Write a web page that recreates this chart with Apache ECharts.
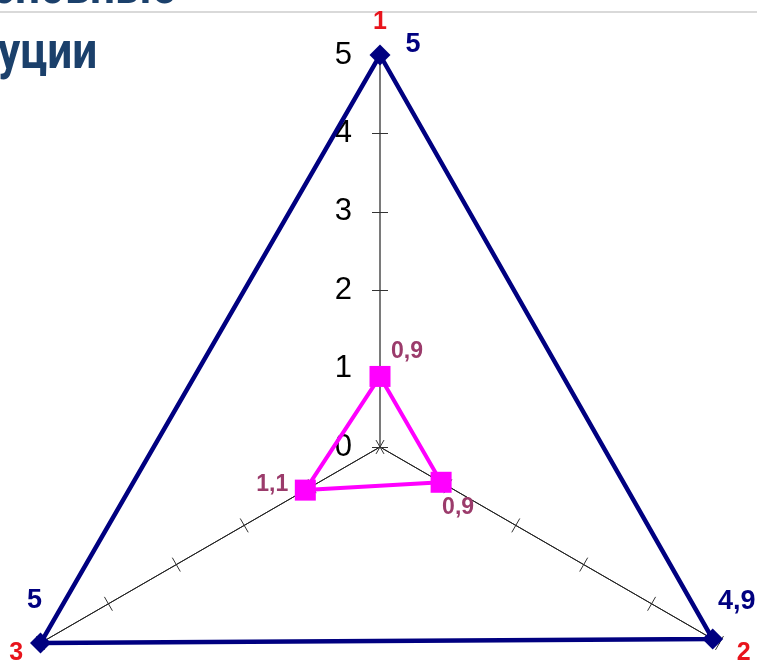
<!DOCTYPE html>
<html>
<head>
<meta charset="utf-8">
<script src="https://cdn.jsdelivr.net/npm/echarts@6/dist/echarts.min.js"></script>
<style>
    html, body { margin: 0; padding: 0; background: #fff; }
    #chart { width: 757px; height: 665px; }
</style>
</head>
<body>
<div id="chart"></div>
<script>
(function () {

    var axisNames = ['1', '2', '3'];
    var maxValue = 5;
    var blueValues = [5, 4.9, 5];
    var pinkValues = [0.9, 0.9, 1.1];
    var titleLines = ['сновные', 'уции'];

    // echarts lays radar axes counterclockwise, the picture goes clockwise
    var order = [0, 2, 1];

    var BLUE = '#000080',
        PINK = '#ff00ff',
        PINK_TEXT = '#9b3b6b',
        RED = '#e8141c',
        TITLE = '#1b406b';

    // label offsets around each vertex, by original axis index
    var blueOffsets = [[33, -10], [24, -38], [-6, -42]];
    var pinkOffsets = [[27, -25], [17, 25], [-33, -5]];

    function reorder(arr) {
        return order.map(i => arr[i]);
    }

    function fmt(v) {
        return String(v).replace('.', ',');
    }

    var center = [380, 447],
        radius = 392;

    function makeIndicators(withLabels) {
        return reorder(axisNames).map((name, k) => {
            var ind = { name: name, min: 0, max: maxValue };
            if (k === 0) {
                if (withLabels) {
                    ind.axisLabel = {
                        show: true,
                        color: '#000',
                        fontSize: 31,
                        fontFamily: 'Liberation Sans',
                        margin: 28,
                        padding: [12, 0, 0, 0],
                        formatter: v => String(v)
                    };
                }
                ind.axisLine = { lineStyle: { color: '#7a7a7a', width: 2 } };
            }
            return ind;
        });
    }

    // two overlaid radars: one draws the ticks on each side of the axis
    function radarBase(first) {
        return {
            center: center,
            radius: radius,
            startAngle: 90,
            splitNumber: 5,
            shape: 'polygon',
            indicator: makeIndicators(first),
            axisName: {
                show: first,
                color: RED,
                fontSize: 25,
                fontWeight: 'bold',
                fontFamily: 'Liberation Sans'
            },
            nameGap: 20,
            axisLine: { lineStyle: { color: '#222', width: 1 } },
            axisTick: { show: true, length: first ? 8 : -8, lineStyle: { color: '#333', width: 1 } },
            axisLabel: { show: false },
            splitLine: { show: false },
            splitArea: { show: false }
        };
    }

    var series = [{
        type: 'radar',
        radarIndex: 0,
        silent: true,
        z: 3,
        data: [{
            value: reorder(blueValues),
            symbol: 'diamond',
            symbolSize: 21,
            itemStyle: { color: BLUE },
            lineStyle: { color: BLUE, width: 4.5 }
        }, {
            value: reorder(pinkValues),
            symbol: 'rect',
            symbolSize: 21,
            itemStyle: { color: PINK },
            lineStyle: { color: PINK, width: 4 }
        }]
    }];

    // one invisible series per axis, only to place the value labels
    order.forEach((orig, k) => {
        series.push({
            type: 'radar',
            radarIndex: 0,
            silent: true,
            z: 4,
            symbolSize: 1,
            itemStyle: { color: 'rgba(0,0,0,0)' },
            lineStyle: { opacity: 0 },
            label: {
                show: true,
                position: 'inside',
                fontWeight: 'bold',
                fontFamily: 'Liberation Sans',
                opacity: 1,
                formatter: p => p.dimensionIndex === k ? fmt(p.value) : ''
            },
            data: [{
                value: reorder(blueValues),
                label: { color: BLUE, fontSize: 27, offset: blueOffsets[orig] }
            }, {
                value: reorder(pinkValues),
                label: { color: PINK_TEXT, fontSize: 23, offset: pinkOffsets[orig] }
            }]
        });
    });

    var option = {
        backgroundColor: '#fff',
        animation: false,
        radar: [radarBase(true), radarBase(false)],
        graphic: [{
            type: 'line',
            shape: { x1: 0, y1: 12, x2: 757, y2: 12 },
            style: { stroke: '#d9d9d9', lineWidth: 2 }
        }, {
            type: 'text',
            x: -8,
            y: -36,
            scaleX: 0.85,
            style: {
                text: titleLines[0],
                fill: TITLE,
                fontSize: 52,
                fontWeight: 'bold',
                fontFamily: 'Roboto',
                verticalAlign: 'top'
            }
        }, {
            type: 'text',
            x: -2,
            y: 29,
            scaleX: 0.85,
            style: {
                text: titleLines[1],
                fill: TITLE,
                fontSize: 52,
                fontWeight: 'bold',
                fontFamily: 'Roboto',
                verticalAlign: 'top'
            }
        }],
        series: series
    };

    var chart = echarts.init(document.getElementById('chart'));
    chart.setOption(option);

})();
</script>
</body>
</html>
